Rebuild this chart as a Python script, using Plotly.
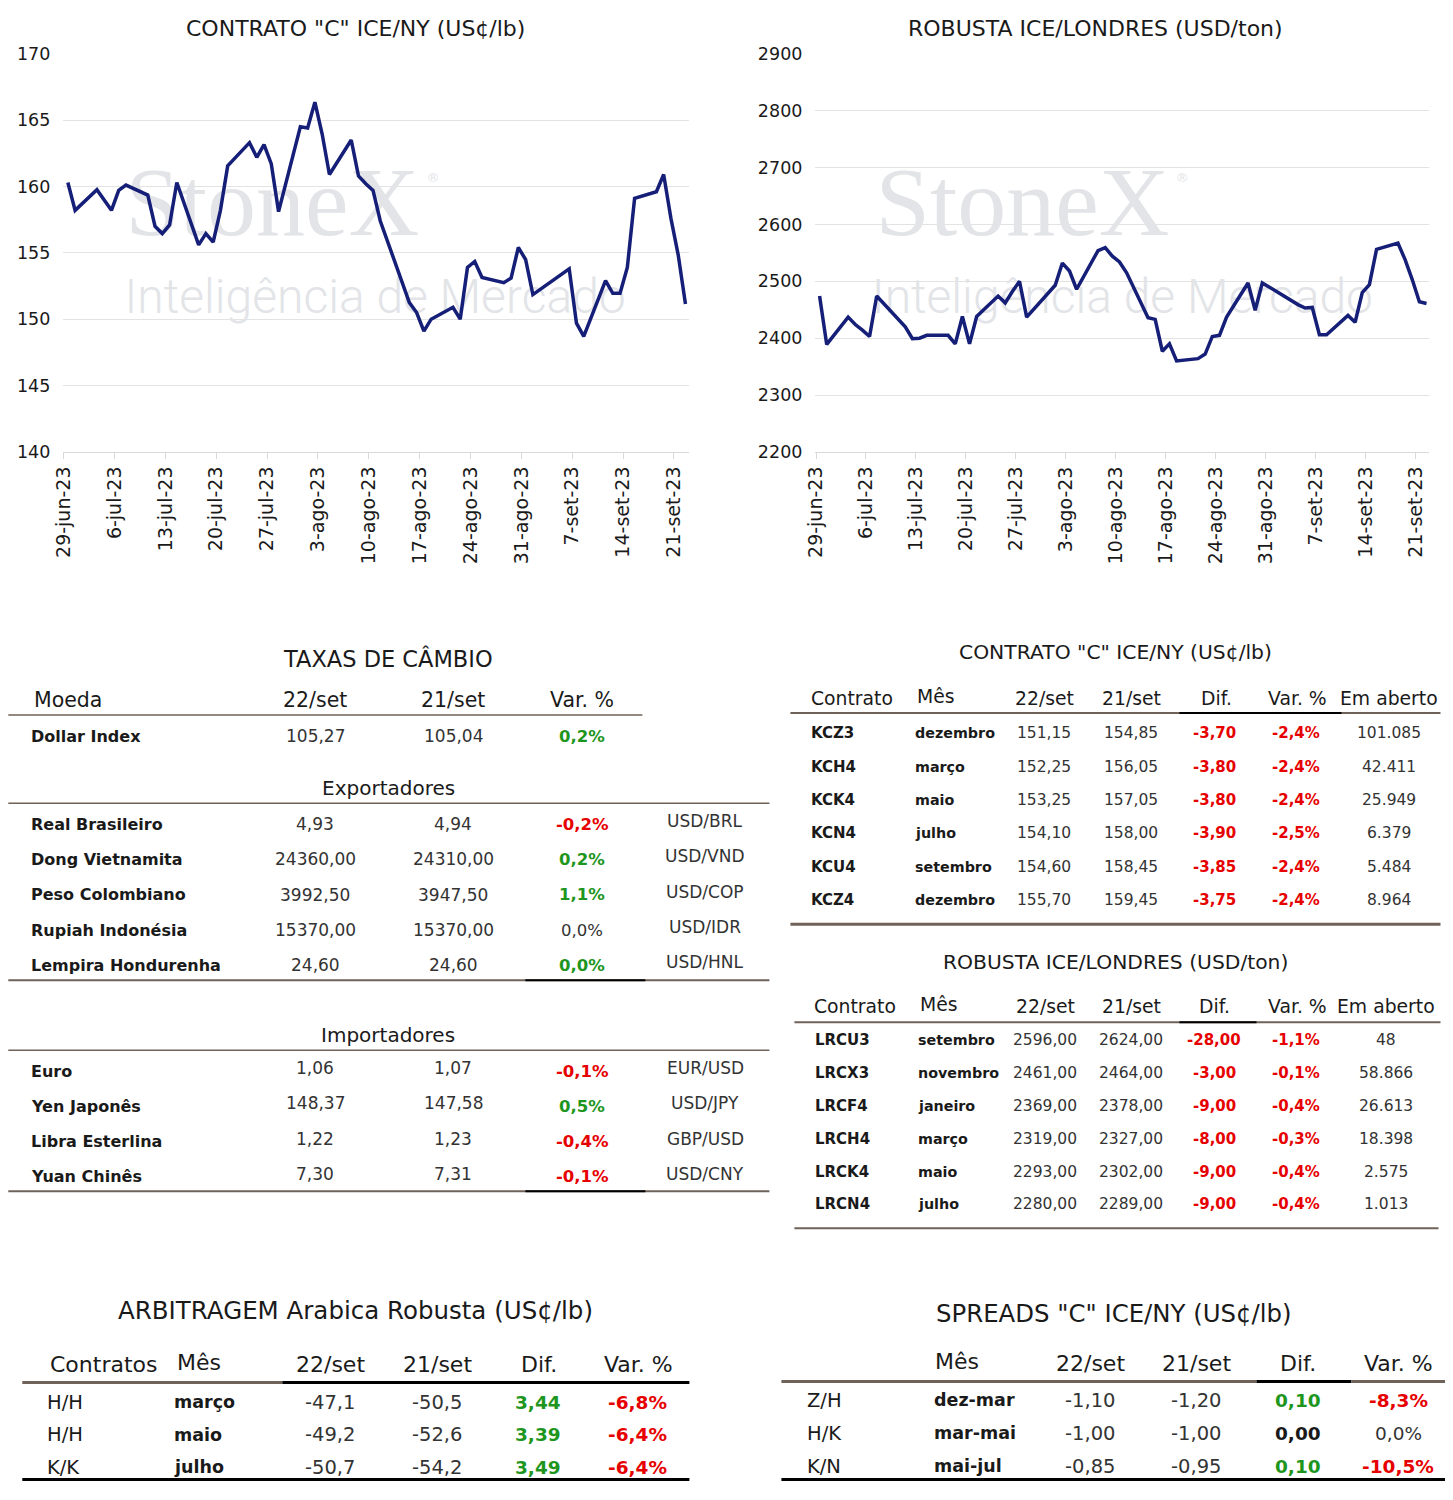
import plotly.graph_objects as go
import pandas as pd

# ---------------- DATA ----------------
arabica_dates = ["2023-06-29","2023-06-30","2023-07-03","2023-07-05","2023-07-06","2023-07-07",
    "2023-07-10","2023-07-11","2023-07-12","2023-07-13","2023-07-14","2023-07-17","2023-07-18",
    "2023-07-19","2023-07-20","2023-07-21","2023-07-24","2023-07-25","2023-07-26","2023-07-27",
    "2023-07-28","2023-07-31","2023-08-01","2023-08-02","2023-08-03","2023-08-04","2023-08-07",
    "2023-08-08","2023-08-09","2023-08-10","2023-08-11","2023-08-14","2023-08-15","2023-08-16",
    "2023-08-17","2023-08-18","2023-08-21","2023-08-22","2023-08-23","2023-08-24","2023-08-25",
    "2023-08-28","2023-08-29","2023-08-30","2023-08-31","2023-09-01","2023-09-05","2023-09-06",
    "2023-09-07","2023-09-08","2023-09-11","2023-09-12","2023-09-13","2023-09-14","2023-09-15",
    "2023-09-18","2023-09-19","2023-09-20","2023-09-21","2023-09-22"]
arabica_vals = [160.3,158.2,159.75,158.2,159.7,160.1,
    159.35,157.0,156.45,157.1,160.3,155.6,156.45,
    155.8,158.2,161.55,163.3,162.2,163.15,161.7,
    158.1,164.5,164.4,166.35,163.95,160.9,163.5,
    160.8,160.2,159.7,157.4,152.65,151.25,150.5,
    149.1,150.0,150.9,150.0,153.9,154.35,153.15,
    152.75,153.1,155.4,154.5,151.85,153.4,153.8,
    149.7,148.7,152.9,151.95,151.95,153.9,159.1,
    159.6,160.9,157.6,154.85,151.15]

robusta_dates = ["2023-06-29","2023-06-30","2023-07-03","2023-07-04","2023-07-05","2023-07-06",
    "2023-07-07","2023-07-10","2023-07-11","2023-07-12","2023-07-13","2023-07-14","2023-07-17",
    "2023-07-18","2023-07-19","2023-07-20","2023-07-21","2023-07-24","2023-07-25","2023-07-26",
    "2023-07-27","2023-07-28","2023-07-31","2023-08-01","2023-08-02","2023-08-03","2023-08-04",
    "2023-08-07","2023-08-08","2023-08-09","2023-08-10","2023-08-11","2023-08-14","2023-08-15",
    "2023-08-16","2023-08-17","2023-08-18","2023-08-21","2023-08-22","2023-08-23","2023-08-24",
    "2023-08-25","2023-08-28","2023-08-29","2023-08-30","2023-08-31","2023-09-01","2023-09-04",
    "2023-09-05","2023-09-06","2023-09-07","2023-09-08","2023-09-11","2023-09-12","2023-09-13",
    "2023-09-14","2023-09-15","2023-09-18","2023-09-19","2023-09-20","2023-09-21","2023-09-22"]
robusta_vals = [2474,2389,2437,2424,2414,2403,
    2474,2435,2420,2399,2400,2405,2405,
    2390,2438,2390,2438,2474,2462,2482,
    2500,2437,2478,2493,2532,2518,2486,
    2554,2559,2544,2534,2515,2436,2433,
    2377,2390,2360,2364,2372,2403,2405,
    2437,2497,2449,2497,2489,2482,2459,
    2453,2454,2406,2406,2440,2428,2480,
    2494,2556,2567,2538,2503,2464,2461]

tick_dates = ["2023-06-29","2023-07-06","2023-07-13","2023-07-20","2023-07-27","2023-08-03",
    "2023-08-10","2023-08-17","2023-08-24","2023-08-31","2023-09-07","2023-09-14","2023-09-21"]
tick_labels = ["29-jun-23","6-jul-23","13-jul-23","20-jul-23","27-jul-23","3-ago-23",
    "10-ago-23","17-ago-23","24-ago-23","31-ago-23","7-set-23","14-set-23","21-set-23"]

chart_titles = ['CONTRATO "C" ICE/NY (US¢/lb)', 'ROBUSTA ICE/LONDRES (USD/ton)']
watermark = ["StoneX", "®", "Inteligência de Mercado"]

# Exchange rates
fx_title = "TAXAS DE CÂMBIO"
fx_header = ["Moeda", "22/set", "21/set", "Var. %"]
dollar_row = ["Dollar Index", "105,27", "105,04", "0,2%"]
exp_names = ["Real Brasileiro", "Dong Vietnamita", "Peso Colombiano", "Rupiah Indonésia", "Lempira Hondurenha"]
exp_22 = ["4,93", "24360,00", "3992,50", "15370,00", "24,60"]
exp_21 = ["4,94", "24310,00", "3947,50", "15370,00", "24,60"]
exp_var = ["-0,2%", "0,2%", "1,1%", "0,0%", "0,0%"]
exp_var_style = ["r", "g", "g", "n", "g"]
exp_pair = ["USD/BRL", "USD/VND", "USD/COP", "USD/IDR", "USD/HNL"]
imp_names = ["Euro", "Yen Japonês", "Libra Esterlina", "Yuan Chinês"]
imp_22 = ["1,06", "148,37", "1,22", "7,30"]
imp_21 = ["1,07", "147,58", "1,23", "7,31"]
imp_var = ["-0,1%", "0,5%", "-0,4%", "-0,1%"]
imp_var_style = ["r", "g", "r", "r"]
imp_pair = ["EUR/USD", "USD/JPY", "GBP/USD", "USD/CNY"]

# Futures tables
fut_header = ["Contrato", "Mês", "22/set", "21/set", "Dif.", "Var. %", "Em aberto"]
kc_title = 'CONTRATO "C" ICE/NY (US¢/lb)'
kc_contract = ["KCZ3", "KCH4", "KCK4", "KCN4", "KCU4", "KCZ4"]
kc_month = ["dezembro", "março", "maio", "julho", "setembro", "dezembro"]
kc_22 = ["151,15", "152,25", "153,25", "154,10", "154,60", "155,70"]
kc_21 = ["154,85", "156,05", "157,05", "158,00", "158,45", "159,45"]
kc_dif = ["-3,70", "-3,80", "-3,80", "-3,90", "-3,85", "-3,75"]
kc_var = ["-2,4%", "-2,4%", "-2,4%", "-2,5%", "-2,4%", "-2,4%"]
kc_oi = ["101.085", "42.411", "25.949", "6.379", "5.484", "8.964"]

lrc_title = "ROBUSTA ICE/LONDRES (USD/ton)"
lrc_contract = ["LRCU3", "LRCX3", "LRCF4", "LRCH4", "LRCK4", "LRCN4"]
lrc_month = ["setembro", "novembro", "janeiro", "março", "maio", "julho"]
lrc_22 = ["2596,00", "2461,00", "2369,00", "2319,00", "2293,00", "2280,00"]
lrc_21 = ["2624,00", "2464,00", "2378,00", "2327,00", "2302,00", "2289,00"]
lrc_dif = ["-28,00", "-3,00", "-9,00", "-8,00", "-9,00", "-9,00"]
lrc_var = ["-1,1%", "-0,1%", "-0,4%", "-0,3%", "-0,4%", "-0,4%"]
lrc_oi = ["48", "58.866", "26.613", "18.398", "2.575", "1.013"]

arb_title = "ARBITRAGEM Arabica Robusta (US¢/lb)"
arb_header = ["Contratos", "Mês", "22/set", "21/set", "Dif.", "Var. %"]
arb_code = ["H/H", "H/H", "K/K"]
arb_month = ["março", "maio", "julho"]
arb_22 = ["-47,1", "-49,2", "-50,7"]
arb_21 = ["-50,5", "-52,6", "-54,2"]
arb_dif = ["3,44", "3,39", "3,49"]
arb_var = ["-6,8%", "-6,4%", "-6,4%"]

spr_title = 'SPREADS "C" ICE/NY (US¢/lb)'
spr_header = ["Mês", "22/set", "21/set", "Dif.", "Var. %"]
spr_code = ["Z/H", "H/K", "K/N"]
spr_month = ["dez-mar", "mar-mai", "mai-jul"]
spr_22 = ["-1,10", "-1,00", "-0,85"]
spr_21 = ["-1,20", "-1,00", "-0,95"]
spr_dif = ["0,10", "0,00", "0,10"]
spr_dif_style = ["g", "k", "g"]
spr_var = ["-8,3%", "0,0%", "-10,5%"]
spr_var_style = ["r", "n", "r"]

# ---------------- STYLE ----------------
W, H = 1437, 1484
# where the figure lands in the photographed page (measured)
BX0, BY0, BW, BH = 19.7, 17.3, 1424.8, 1463.2
FONT = "DejaVu Sans"
NAVY = "#161f78"
DARK = "#1a1a1a"
VAL = "#333333"
GREEN = "#1e961e"
RED = "#e60000"
BROWN = "#6f6258"
GRID = "#e3e3e3"
WM = "#e2e4e7"

STYLE_COLOR = {"r": (RED, True), "g": (GREEN, True), "n": (VAL, False), "k": (DARK, True)}


def px(x):
    return (x - BX0) / BW


def py(y):
    return 1 - (y - BY0) / BH


fig = go.Figure()


def text(x, y, s, size, color=DARK, bold=False, anchor="center", family=FONT):
    fig.add_annotation(x=px(x), y=py(y), xref="paper", yref="paper", text=s,
                       showarrow=False, xanchor=anchor, yanchor="middle",
                       font=dict(size=size, color=color, family=family,
                                 weight=700 if bold else 400))


def hline(x0, x1, y, color=BROWN, width=2):
    fig.add_shape(type="line", xref="paper", yref="paper", x0=px(x0), x1=px(x1),
                  y0=py(y), y1=py(y), line=dict(color=color, width=width))


# ---------------- CHARTS ----------------
wm_specs = [
    ("x", "y", [("2023-07-27 03:00", 158.2), ("2023-08-18 06:00", 160.6), ("2023-08-10 07:00", 151.4)]),
    ("x2", "y2", [("2023-07-27 10:00", 2624), ("2023-08-18 19:00", 2680), ("2023-08-10 10:00", 2465)]),
]
for xa, ya, pos in wm_specs:
    fig.add_trace(go.Scatter(x=[pos[0][0]], y=[pos[0][1]], mode="text", text=[watermark[0]],
                             textfont=dict(family="Liberation Serif", size=98, color=WM),
                             xaxis=xa, yaxis=ya, hoverinfo="skip", showlegend=False))
    fig.add_trace(go.Scatter(x=[pos[1][0]], y=[pos[1][1]], mode="text", text=[watermark[1]],
                             textfont=dict(family="DejaVu Sans", size=13, color=WM),
                             xaxis=xa, yaxis=ya, hoverinfo="skip", showlegend=False))
    fig.add_trace(go.Scatter(x=[pos[2][0]], y=[pos[2][1]], mode="text", text=[watermark[2]],
                             textfont=dict(family="Roboto", size=48, color=WM, weight=300),
                             xaxis=xa, yaxis=ya, hoverinfo="skip", showlegend=False))

fig.add_trace(go.Scatter(x=pd.to_datetime(arabica_dates), y=arabica_vals, mode="lines",
                         line=dict(color=NAVY, width=3.5), xaxis="x", yaxis="y",
                         showlegend=False))
fig.add_trace(go.Scatter(x=pd.to_datetime(robusta_dates), y=robusta_vals, mode="lines",
                         line=dict(color=NAVY, width=3.5), xaxis="x2", yaxis="y2",
                         showlegend=False))

tick_pos1 = [d - pd.Timedelta(hours=14) for d in pd.to_datetime(tick_dates)]
tick_pos2 = [d - pd.Timedelta(hours=12) for d in pd.to_datetime(tick_dates)]

xcommon = dict(type="date", ticktext=tick_labels, tickangle=-90,
               ticks="outside", ticklen=6, tickcolor="#d9d9d9", showline=True,
               linecolor="#d9d9d9", linewidth=1, showgrid=False, zeroline=False,
               tickfont=dict(family=FONT, size=19, color=DARK), fixedrange=True)
ycommon = dict(showgrid=True, gridcolor=GRID, gridwidth=1, zeroline=False, showline=False,
               ticks="", tickfont=dict(family=FONT, size=17.5, color=DARK),
               ticklabelstandoff=12, fixedrange=True)

fig.update_layout(
    xaxis=dict(domain=[px(63), px(689)], tickvals=tick_pos1,
               range=["2023-06-28 09:00", "2023-09-22 13:00"], anchor="y", **xcommon),
    yaxis=dict(domain=[py(451), py(53)], range=[140, 170], dtick=5, anchor="x", **ycommon),
    xaxis2=dict(domain=[px(815), px(1429)], tickvals=tick_pos2,
                range=["2023-06-28 10:00", "2023-09-22 10:00"], anchor="y2", **xcommon),
    yaxis2=dict(domain=[py(451), py(53)], range=[2200, 2900], dtick=100, anchor="x2", **ycommon),
)

text(355, 28, chart_titles[0], 22)
text(1095, 28, chart_titles[1], 22)

# ---------------- FX TABLE ----------------
text(388, 657, fx_title, 22.5)
text(32, 699, fx_header[0], 20.5, anchor="left")
text(315, 699, fx_header[1], 20.5)
text(453, 699, fx_header[2], 20.5)
text(582, 699, fx_header[3], 20.5)
hline(8, 642, 714, BROWN, 1.5)
text(29, 735, dollar_row[0], 16, bold=True, anchor="left")
text(315, 735, dollar_row[1], 17, VAL)
text(453, 735, dollar_row[2], 17, VAL)
text(582, 735, dollar_row[3], 16.5, GREEN, bold=True)

text(388, 787, "Exportadores", 20)
hline(8, 769, 802, BROWN, 1.5)
for i in range(len(exp_names)):
    y = 823 + i * 35.3
    text(29, y, exp_names[i], 16, bold=True, anchor="left")
    text(315, y, exp_22[i], 17, VAL)
    text(453, y, exp_21[i], 17, VAL)
    c, b = STYLE_COLOR[exp_var_style[i]]
    text(582, y, exp_var[i], 16.5, c, bold=b)
    text(705, y - 3, exp_pair[i], 17, VAL)
hline(8, 769, 979, BROWN, 2)
hline(525, 645, 979, "#000000", 2)

text(388, 1034, "Importadores", 20)
hline(8, 769, 1049, BROWN, 1.5)
for i in range(len(imp_names)):
    y = 1070 + i * 35.2
    text(29, y, imp_names[i], 16, bold=True, anchor="left")
    text(315, y - 3, imp_22[i], 17, VAL)
    text(453, y - 3, imp_21[i], 17, VAL)
    c, b = STYLE_COLOR[imp_var_style[i]]
    text(582, y, imp_var[i], 16.5, c, bold=b)
    text(705, y - 3, imp_pair[i], 17, VAL)
hline(8, 769, 1190, BROWN, 2)
hline(525, 645, 1190, "#000000", 2)


# ---------------- FUTURES TABLES ----------------
def futures(title, ty, hy, hx, cols, y0, step, contract, month, v22, v21, dif, var, oi):
    text(1115, ty, title, 20.3)
    text(hx[0], hy, fut_header[0], 18.8)
    text(hx[1], hy - 2, fut_header[1], 18.8, anchor="left")
    for k in range(2, 7):
        text(hx[k], hy, fut_header[k], 18.8)
    for i in range(len(contract)):
        y = y0 + i * step
        text(cols[0], y, contract[i], 15, bold=True, anchor="left")
        text(cols[1], y, month[i], 14.3, bold=True, anchor="left")
        text(cols[2], y, v22[i], 15.5, VAL)
        text(cols[3], y, v21[i], 15.5, VAL)
        text(cols[4], y, dif[i], 15, RED, bold=True)
        text(cols[5], y, var[i], 15, RED, bold=True)
        text(cols[6], y, oi[i], 15.5, VAL)


futures(kc_title, 651, 697, [852, 915, 1044, 1131, 1216, 1297, 1389],
        [809, 913, 1044, 1131, 1214, 1296, 1389], 732, 33.4,
        kc_contract, kc_month, kc_22, kc_21, kc_dif, kc_var, kc_oi)
hline(790, 1440, 712, BROWN, 2)
hline(1179, 1341, 712, "#000000", 2)
hline(790, 1440, 923, BROWN, 3)

futures(lrc_title, 961, 1005, [855, 918, 1045, 1131, 1214, 1297, 1386],
        [813, 916, 1045, 1131, 1214, 1296, 1386], 1039, 32.8,
        lrc_contract, lrc_month, lrc_22, lrc_21, lrc_dif, lrc_var, lrc_oi)
hline(794, 1440, 1021, BROWN, 2)
hline(1179, 1256, 1021, "#000000", 2)
hline(794, 1438, 1227, BROWN, 2)

# ---------------- ARBITRAGEM ----------------
text(355, 1309, arb_title, 24.5)
text(48, 1363, arb_header[0], 22, anchor="left")
text(175, 1361, arb_header[1], 22, anchor="left")
text(330, 1363, arb_header[2], 22)
text(437, 1363, arb_header[3], 22)
text(539, 1363, arb_header[4], 22)
text(638, 1363, arb_header[5], 22)
hline(22, 282, 1381, BROWN, 3)
hline(282, 689, 1381, "#000000", 3)
for i in range(len(arb_code)):
    y = 1401 + i * 32.5
    text(45, y, arb_code[i], 19.5, anchor="left")
    text(172, y, arb_month[i], 17.5, bold=True, anchor="left")
    text(330, y, arb_22[i], 19.5, VAL)
    text(437, y, arb_21[i], 19.5, VAL)
    text(538, y, arb_dif[i], 18.5, GREEN, bold=True)
    text(637, y, arb_var[i], 18.5, RED, bold=True)
hline(22, 689, 1478, "#000000", 3)

# ---------------- SPREADS ----------------
text(1114, 1312, spr_title, 24.4)
text(933, 1360, spr_header[0], 22, anchor="left")
text(1090, 1362, spr_header[1], 22)
text(1196, 1362, spr_header[2], 22)
text(1298, 1362, spr_header[3], 22)
text(1398, 1362, spr_header[4], 22)
hline(781, 1256, 1380, BROWN, 3)
hline(1256, 1351, 1380, "#000000", 3)
hline(1351, 1453, 1380, BROWN, 3)
for i in range(len(spr_code)):
    y = 1399 + i * 33
    text(805, y, spr_code[i], 19.5, anchor="left")
    text(932, y, spr_month[i], 17.5, bold=True, anchor="left")
    text(1090, y, spr_22[i], 19.5, VAL)
    text(1196, y, spr_21[i], 19.5, VAL)
    c, b = STYLE_COLOR[spr_dif_style[i]]
    text(1298, y, spr_dif[i], 18.5, c, bold=b)
    c, b = STYLE_COLOR[spr_var_style[i]]
    text(1398, y, spr_var[i], 18.5, c, bold=b)
hline(781, 1453, 1478, "#000000", 3)

fig.update_layout(width=W, height=H, margin=dict(l=0, r=0, t=0, b=0),
                  paper_bgcolor="white", plot_bgcolor="white",
                  font=dict(family=FONT, color=DARK), showlegend=False)

fig.write_html("out.html", config={"displayModeBar": False})
